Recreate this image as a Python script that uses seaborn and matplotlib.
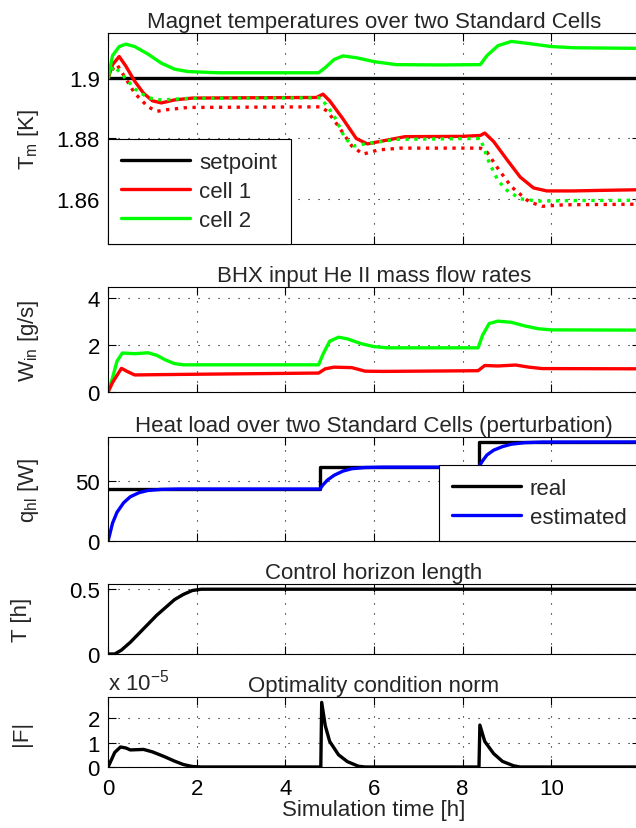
import matplotlib
matplotlib.use("Agg")
import matplotlib.pyplot as plt
import seaborn as sns

# ---- data (time in hours) ----
setpoint_t = [0, 12]
setpoint_T = [1.9, 1.9]

cell1_t = [0, 0.1, 0.25, 0.4, 0.6, 0.8, 1.0, 1.2, 1.5, 1.9, 3.0, 4.7, 4.85, 5.0, 5.3,
           5.6, 5.85, 6.2, 6.7, 8.0, 8.4, 8.5, 8.7, 9.0, 9.3, 9.6, 9.9, 10.5, 11.2, 12.0]
cell1_T = [1.9000, 1.9045, 1.9072, 1.9040, 1.8990, 1.8950, 1.8925, 1.8918, 1.8928, 1.8934,
           1.8935, 1.8936, 1.8947, 1.8925, 1.8865, 1.8800, 1.8782, 1.8792, 1.8806, 1.8807,
           1.8810, 1.8818, 1.8790, 1.8730, 1.8672, 1.8636, 1.8626, 1.8626, 1.8628, 1.8630]

cell1_est_t = [0, 0.1, 0.2, 0.35, 0.6, 0.9, 1.1, 1.3, 1.8, 4.8, 4.95, 5.2, 5.5, 5.75,
               6.1, 6.6, 8.4, 8.55, 8.8, 9.1, 9.5, 9.8, 10.3, 12.0]
cell1_est_T = [1.9000, 1.9030, 1.9045, 1.9010, 1.8950, 1.8905, 1.8890, 1.8895, 1.8903,
               1.8905, 1.8890, 1.8840, 1.8775, 1.8748, 1.8762, 1.8768, 1.8768, 1.8755,
               1.8700, 1.8640, 1.8590, 1.8575, 1.8580, 1.8582]

cell2_t = [0, 0.1, 0.25, 0.4, 0.6, 0.9, 1.2, 1.5, 1.8, 2.5, 4.75, 4.9, 5.1, 5.3, 5.6,
           6.0, 6.5, 7.5, 8.4, 8.55, 8.8, 9.1, 9.5, 10.0, 10.5, 12.0]
cell2_T = [1.9000, 1.9075, 1.9105, 1.9113, 1.9105, 1.9080, 1.9050, 1.9030, 1.9022, 1.9018,
           1.9018, 1.9035, 1.9062, 1.9074, 1.9068, 1.9055, 1.9045, 1.9044, 1.9045, 1.9075,
           1.9108, 1.9122, 1.9115, 1.9105, 1.9101, 1.9099]

cell2_est_t = [0, 0.12, 0.3, 0.6, 0.9, 1.2, 1.8, 4.8, 4.9, 5.1, 5.35, 5.55, 5.8, 6.5,
               8.4, 8.5, 8.6, 8.8, 9.0, 9.3, 9.7, 10.5, 12.0]
cell2_est_T = [1.9000, 1.9040, 1.9015, 1.8965, 1.8935, 1.8928, 1.8933, 1.8935, 1.8915,
               1.8875, 1.8800, 1.8775, 1.8782, 1.8797, 1.8800, 1.8760, 1.8720, 1.8660,
               1.8628, 1.8600, 1.8592, 1.8594, 1.8595]

w1_t = [0, 0.1, 0.3, 0.45, 0.6, 1.0, 2.0, 4.75, 4.9, 5.1, 5.5, 5.8, 6.2, 8.35, 8.5,
        8.8, 9.2, 9.5, 9.8, 12.0]
w1 = [0.0, 0.4, 1.0, 0.85, 0.72, 0.73, 0.75, 0.80, 0.98, 1.05, 1.03, 0.88, 0.87, 0.90,
      1.12, 1.10, 1.14, 1.05, 0.99, 0.98]

w2_t = [0, 0.1, 0.2, 0.32, 0.6, 0.9, 1.1, 1.3, 1.5, 1.7, 4.75, 4.85, 5.0, 5.2, 5.4,
        5.7, 6.0, 6.3, 8.35, 8.45, 8.6, 8.8, 9.1, 9.4, 9.7, 10.0, 12.0]
w2 = [0.0, 0.6, 1.3, 1.65, 1.62, 1.66, 1.55, 1.35, 1.20, 1.15, 1.15, 1.60, 2.15, 2.32,
      2.25, 2.05, 1.92, 1.87, 1.87, 2.40, 2.90, 3.00, 2.95, 2.80, 2.68, 2.63, 2.62]

q_real_t = [0, 4.78, 8.36, 12.0]
q_real = [43.5, 61.8, 82.9, 82.9]

q_est_t = [0, 0.1, 0.2, 0.35, 0.5, 0.7, 0.9, 1.2, 1.6, 4.78, 4.85, 4.95, 5.1, 5.3, 5.5,
           5.8, 6.2, 8.36, 8.45, 8.55, 8.7, 8.9, 9.1, 9.4, 9.8, 12.0]
q_est = [0, 15, 24, 32, 37, 40.5, 42.3, 43.2, 43.5, 43.5, 47, 51, 55, 58.5, 60.5,
         61.5, 61.8, 61.8, 67, 72, 76, 79, 81, 82.3, 82.8, 82.9]

horizon_t = [0, 0.15, 0.3, 0.5, 0.7, 0.9, 1.1, 1.3, 1.5, 1.7, 1.9, 2.1, 12.0]
horizon = [0, 0, 0.03, 0.09, 0.16, 0.23, 0.30, 0.36, 0.42, 0.46, 0.49, 0.50, 0.50]

fnorm_t = [0, 0.15, 0.28, 0.4, 0.5, 0.8, 1.0, 1.25, 1.5, 1.7, 1.9, 2.1, 4.8, 4.82,
           4.9, 5.0, 5.2, 5.4, 5.65, 5.8, 8.37, 8.39, 8.5, 8.7, 8.9, 9.15, 9.3, 12.0]
fnorm_e5 = [0, 0.6, 0.82, 0.78, 0.70, 0.72, 0.62, 0.44, 0.24, 0.10, 0.02, 0, 0, 2.65,
            1.70, 1.05, 0.50, 0.22, 0.03, 0, 0, 1.72, 1.05, 0.55, 0.23, 0.05, 0, 0]

x_ticks = [0, 2, 4, 6, 8, 10]

# ---- style ----
sns.set_style("ticks")
plt.rcParams["font.family"] = ["Liberation Sans", "DejaVu Sans"]
plt.rcParams["mathtext.fontset"] = "custom"
plt.rcParams["mathtext.rm"] = "Liberation Sans"
plt.rcParams["mathtext.it"] = "Liberation Sans:italic"
plt.rcParams["mathtext.default"] = "regular"
FS = 16
LW = 2.4
RED, GREEN, BLUE, BLACK = "#ff0000", "#00ff00", "#0000ff", "#000000"


def line(ax, t, v, color, ls="-", **kw):
    sns.lineplot(x=t, y=v, ax=ax, color=color, linestyle=ls, linewidth=LW,
                 estimator=None, sort=False, **kw)


def style_axes(ax, yticks, ylabels, title, ylabel, ylab_x, ylim):
    ax.set_xlim(0, 12)
    ax.set_ylim(*ylim)
    ax.set_xticks(x_ticks)
    ax.set_yticks(yticks, ylabels)
    ax.tick_params(direction="in", top=True, right=True, length=6, width=0.8,
                   labelsize=FS, pad=6, colors="black")
    ax.grid(True, color="black", linestyle=(0, (1, 8)), linewidth=0.8)
    ax.set_axisbelow(True)
    for s in ax.spines.values():
        s.set_visible(True)
        s.set_color("black")
        s.set_linewidth(0.8)
    ax.set_title(title, fontsize=FS, pad=4)
    ax.set_ylabel(ylabel, fontsize=FS)
    ax.yaxis.set_label_coords(ylab_x, 0.5)
    ax.set_xlabel("")


def add_legend(ax, n, labels, loc):
    h = ax.get_lines()[:n]
    leg = ax.legend(h, labels, loc=loc, borderaxespad=0, fontsize=FS, frameon=True,
                    fancybox=False, edgecolor="black", framealpha=1, handlelength=3.1,
                    handletextpad=0.4, labelspacing=0.35, borderpad=0.6)
    leg.get_frame().set_linewidth(0.8)


fig = plt.figure(figsize=(6.36, 8.29), dpi=100)
left, width = 0.170, 0.836
ax1 = fig.add_axes([left, 0.7045, width, 0.2545])
ax2 = fig.add_axes([left, 0.526, width, 0.1267])
ax3 = fig.add_axes([left, 0.3462, width, 0.1254])
ax4 = fig.add_axes([left, 0.2099, width, 0.0844])
ax5 = fig.add_axes([left, 0.0736, width, 0.0844])

# magnet temperatures
line(ax1, setpoint_t, setpoint_T, BLACK)
line(ax1, cell1_t, cell1_T, RED)
line(ax1, cell2_t, cell2_T, GREEN)
line(ax1, cell1_est_t, cell1_est_T, RED, ":")
line(ax1, cell2_est_t, cell2_est_T, GREEN, ":")
style_axes(ax1, [1.86, 1.88, 1.9], ["1.86", "1.88", "1.9"],
           "Magnet temperatures over two Standard Cells", r"T$_m$ [K]", -0.126,
           (1.845, 1.915))
add_legend(ax1, 3, ["setpoint", "cell 1", "cell 2"], "lower left")

# mass flow rates
line(ax2, w2_t, w2, GREEN)
line(ax2, w1_t, w1, RED)
style_axes(ax2, [0, 2, 4], ["0", "2", "4"], "BHX input He II mass flow rates",
           r"W$_{in}$ [g/s]", -0.126, (0, 4.45))

# heat load
line(ax3, q_real_t, q_real, BLACK, drawstyle="steps-post")
line(ax3, q_est_t, q_est, BLUE)
style_axes(ax3, [0, 50], ["0", "50"], "Heat load over two Standard Cells (perturbation)",
           r"q$_{hl}$ [W]", -0.126, (0, 87))
add_legend(ax3, 2, ["real", "estimated"], "lower right")

# control horizon
line(ax4, horizon_t, horizon, BLACK)
style_axes(ax4, [0, 0.5], ["0", "0.5"], "Control horizon length", "T [h]", -0.143,
           (0, 0.54))

# optimality condition
line(ax5, fnorm_t, fnorm_e5, BLACK)
style_axes(ax5, [0, 1, 2], ["0", "1", "2"], "Optimality condition norm", "|F|", -0.143,
           (0, 2.87))
ax5.text(0, 1.04, r"x 10$^{-5}$", transform=ax5.transAxes, ha="left", va="bottom",
         fontsize=FS)
ax5.set_xticks(x_ticks, [str(t) for t in x_ticks])
ax5.tick_params(axis="x", pad=8)
ax5.set_xlabel("Simulation time [h]", fontsize=FS, labelpad=0)

for ax in (ax1, ax2, ax3, ax4):
    ax.tick_params(labelbottom=False)

fig.savefig("out.png", dpi=100)
